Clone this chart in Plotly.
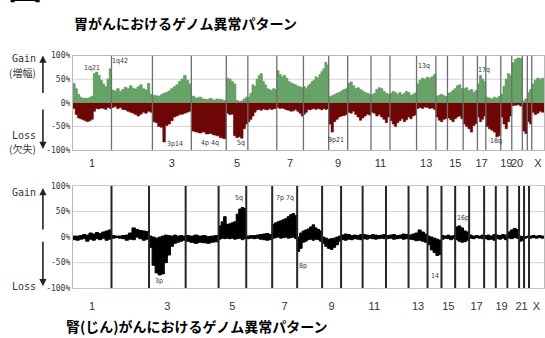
import plotly.graph_objects as go

W, H = 545, 338

CHROMS = ["1", "2", "3", "4", "5", "6", "7", "8", "9", "10", "11", "12",
          "13", "14", "15", "16", "17", "18", "19", "20", "21", "22", "X"]

# Plotted length of each chromosome (arbitrary probe units)
STOMACH_SPAN = [38.7, 41.0, 39.0, 35.0, 21.6, 29.0, 26.7, 25.3, 19.0, 23.4, 19.0, 26.6,
                19.4, 11.6, 15.7, 14.3, 8.4, 15.0, 11.0, 10.6, 5.0, 4.4, 12.3]
KIDNEY_SPAN = [38.7, 37.6, 36.7, 33.0, 27.7, 26.0, 25.0, 25.0, 19.0, 21.6, 23.4, 22.6,
               19.0, 14.0, 13.7, 14.0, 15.0, 11.7, 11.6, 11.7, 5.0, 5.0, 15.0]

STOMACH_XLABELS = ["1", "3", "5", "7", "9", "11", "13", "15", "17", "19", "20", "X"]
KIDNEY_XLABELS = ["1", "3", "5", "7", "9", "11", "13", "15", "17", "19", "21", "X"]

Y_TICKS = [100, 50, 0, -50, -100]
Y_TICKTEXT = ["100%", "50%", "0%", "-50%", "-100%"]

# Stomach cancer: frequency of gain (%) along each chromosome
STOMACH_GAIN = [
    [41, 30, 18, 12, 9, 10, 9, 11, 14, 62, 65, 58, 48, 40, 34, 50, 72],
    [27, 25, 30, 24, 28, 33, 30, 36, 31, 29, 34, 38, 30, 27, 41, 18],
    [16, 15, 14, 17, 20, 22, 25, 30, 34, 38, 45, 50, 58, 48, 40],
    [14, 10, 12, 8, 7, 9, 6, 8, 7, 5],
    [52, 50, 45, 40, 5, 3, 4, 8, 12],
    [12, 20, 38, 35, 50, 58, 62, 45, 38, 30, 28, 26, 30, 28],
    [68, 60, 55, 58, 52, 45, 42, 40, 38, 35, 34, 32],
    [34, 30, 36, 40, 45, 48, 55, 52, 60, 66, 72, 86, 80],
    [13, 15, 17, 20, 22, 25, 28, 30],
    [41, 44, 36, 30, 32, 28, 25, 22, 20, 18],
    [17, 20, 28, 32, 30, 24, 20, 18],
    [20, 24, 22, 18, 22, 17, 20, 24, 22, 16, 18, 21],
    [40, 48, 52, 50, 54, 52, 55, 60],
    [14, 16, 18, 15, 13],
    [20, 22, 26, 30, 36, 38, 30],
    [30, 32, 26, 28, 22, 26],
    [40, 58, 50, 45],
    [12, 10, 8, 12, 10, 14],
    [18, 35, 50, 62, 58],
    [85, 92, 95, 94],
    [4, 8],
    [22, 28],
    [40, 48, 52, 50, 52],
]

# Stomach cancer: frequency of loss (%) along each chromosome
STOMACH_LOSS = [
    [-12, -25, -32, -34, -36, -38, -40, -38, -35, -18, -12, -13, -11, -12, -14, -10, -12],
    [-10, -8, -12, -10, -14, -15, -18, -20, -22, -25, -28, -24, -20, -22, -18, -20],
    [-40, -42, -50, -52, -83, -48, -45, -38, -30, -28, -25, -24, -22, -20, -18],
    [-60, -62, -64, -62, -66, -65, -68, -70, -74, -76],
    [-22, -25, -24, -70, -74, -72, -75, -55, -45],
    [-40, -35, -28, -20, -15, -14, -16, -13, -14, -15, -12, -14, -13, -12],
    [-10, -12, -11, -13, -15, -16, -18, -17, -14, -18, -22, -28],
    [-24, -20, -14, -15, -13, -12, -14, -12, -13, -15, -12, -14, -13],
    [-45, -62, -40, -35, -30, -28, -27, -25],
    [-20, -22, -18, -25, -30, -37, -32, -28, -24, -26],
    [-20, -22, -28, -25, -30, -35, -42, -30],
    [-38, -45, -50, -42, -38, -34, -40, -36, -30, -34, -28, -26],
    [-12, -10, -12, -9, -10, -12, -11, -14],
    [-30, -37, -40, -35, -33],
    [-32, -36, -40, -34, -30, -28, -34],
    [-45, -50, -55, -62, -48, -44],
    [-30, -40, -35, -28],
    [-50, -55, -58, -62, -72, -70],
    [-30, -45, -55, -40, -28],
    [-6, -5, -4, -7],
    [-60, -65],
    [-40, -45],
    [-20, -25, -22, -18, -20],
]

# Kidney cancer: upper and lower envelope of the copy-number profile (%)
KIDNEY_UPPER = [
    [2, 2, 3, 5, 4, 8, 6, 9, 7, 10, 12, 14],
    [3, 2, 2, 3, 4, 8, 18, 15, 13, 12, 11],
    [2, 0, -2, 0, 2, 4, 3, 2, 4, 2, 3, 2],
    [3, 2, 4, 2, 3, 1, 2, 3],
    [22, 30, 40, 25, 26, 28, 30, 45, 55, 58, 56],
    [2, 3, 3, 4, 5, 6, 7, 5],
    [25, 28, 30, 32, 34, 36, 40, 44, 46, 42],
    [0, 8, 12, 14, 16, 20, 24, 18, 15, 12],
    [0, -2, -4, -3, -2, 0, 2],
    [4, 6, 5, 3, 4, 3, 5],
    [5, 4, 3, 5, 4, 3, 4, 5],
    [3, 4, 5, 3, 4, 6, 5],
    [4, 6, 8, 14, 10, 6],
    [2, 0, -2, -4, -6],
    [3, 2, 4, 2, 3],
    [20, 22, 18, 12, 10],
    [4, 2, 3, 2, 4],
    [3, 4, 2, 5],
    [4, 3, 5, 4],
    [10, 14, 17, 15],
    [2, 1],
    [1, 2],
    [2, 3, 2, 3, 2],
]
KIDNEY_LOWER = [
    [-5, -6, -4, -3, -8, -4, -6, -3, -5, -2, -6, -4],
    [-2, -1, -2, -3, -6, -4, -5, 0, -3, -6, -4],
    [-20, -55, -70, -74, -72, -50, -35, -18, -12, -10, -8, -6],
    [-8, -10, -12, -10, -11, -12, -10, -9],
    [-4, -2, -3, -2, -3, -2, -4, -3, -2, -5, -3],
    [-3, -2, -3, -2, -4, -5, -6, -5],
    [-2, -1, 0, -2, -1, 0, -2, -1, 0, -3],
    [-28, -22, -10, -8, -5, -4, -6, -4, -5, -8],
    [-12, -18, -22, -24, -20, -15, -8],
    [-5, -6, -4, -5, -3, -4, -5],
    [-3, -4, -2, -3, -4, -3, -2, -3],
    [-3, -2, -4, -3, -2, -4, -3],
    [-4, -5, -7, -6, -8, -10],
    [-15, -25, -30, -36, -34],
    [-4, -2, -3, -5, -3],
    [-5, -8, -10, -9, -6],
    [-2, -3, -1, -2, -3],
    [-3, -5, -4, -6],
    [-3, -4, -2, -5],
    [-2, -3, -1, -2],
    [-8, -7],
    [-2, -1],
    [-2, -1, -2, -1, -2],
]

# Region labels: (text, chromosome, position within chromosome, height in %)
STOMACH_NOTES = [("1q21", "1", 0.49, 73), ("1q42", "2", 0.20, 89), ("3p14", "3", 0.58, -88),
                 ("4p 4q", "4", 0.54, -85), ("5q", "5", 0.66, -85), ("8q24", "8", 0.73, 113),
                 ("9p21", "9", 0.36, -78), ("13q", "13", 0.41, 77), ("17q", "17", 0.76, 70),
                 ("18q", "18", 0.69, -81), ("20q", "20", 0.47, 116)]
KIDNEY_NOTES = [("3p", "3", 0.27, -85), ("5q", "5", 0.74, 77), ("7p 7q", "7", 0.51, 77),
                ("8p", "8", 0.22, -57), ("14", "14", 0.51, -76), ("16p", "16", 0.57, 37)]


def starts(spans):
    out, s = [], 0.0
    for w in spans:
        out.append(s)
        s += w
    return out, s


def step_series(spans, values):
    xs, ys = [], []
    st, total = starts(spans)
    for s, w, vals in zip(st, spans, values):
        n = len(vals)
        for i, v in enumerate(vals):
            xs.append(s + w * i / n)
            ys.append(v)
    xs.append(total)
    ys.append(values[-1][-1])
    return xs, ys


def px(x):
    return x / W


def py(y):
    return 1 - y / H


GREEN = "#66a366"
RED = "#6e0606"
AX_FONT = dict(family="DejaVu Sans Mono", size=8, color="#333")
JP = "Noto Sans CJK JP"

fig = go.Figure()

# --- stomach cancer panel ---
gx, gy = step_series(STOMACH_SPAN, STOMACH_GAIN)
lx, ly = step_series(STOMACH_SPAN, STOMACH_LOSS)
fig.add_trace(go.Scatter(x=gx, y=gy, mode="lines", line=dict(shape="hv", color="#4f8d4f", width=0.6),
                         fill="tozeroy", fillcolor=GREEN, xaxis="x", yaxis="y", hoverinfo="skip"))
fig.add_trace(go.Scatter(x=lx, y=ly, mode="lines", line=dict(shape="hv", color=RED, width=0.6),
                         fill="tozeroy", fillcolor=RED, xaxis="x", yaxis="y", hoverinfo="skip"))

# --- kidney cancer panel ---
ux, uy = step_series(KIDNEY_SPAN, KIDNEY_UPPER)
dx, dy = step_series(KIDNEY_SPAN, KIDNEY_LOWER)
fig.add_trace(go.Scatter(x=dx, y=dy, mode="lines", line=dict(shape="hv", color="#000", width=1),
                         xaxis="x2", yaxis="y2", hoverinfo="skip"))
fig.add_trace(go.Scatter(x=ux, y=uy, mode="lines", line=dict(shape="hv", color="#000", width=1),
                         fill="tonexty", fillcolor="#000", xaxis="x2", yaxis="y2", hoverinfo="skip"))

shapes = []
annotations = []


def chrom_lines(spans, xref, yref, color, width):
    st, total = starts(spans)
    for s in st[1:]:
        shapes.append(dict(type="line", xref=xref, yref=yref, x0=s, x1=s, y0=-100, y1=100,
                           line=dict(color=color, width=width), layer="above"))
    for v in (50, -50):
        shapes.append(dict(type="line", xref=xref, yref=yref, x0=0, x1=total, y0=v, y1=v,
                           line=dict(color="#d4d4d4", width=1), layer="below"))


chrom_lines(STOMACH_SPAN, "x", "y", "#6e6e6e", 1.3)
chrom_lines(KIDNEY_SPAN, "x2", "y2", "#262626", 2)


def centers(spans, labels):
    st, _ = starts(spans)
    return [st[CHROMS.index(c)] + spans[CHROMS.index(c)] / 2 for c in labels]


def notes(spans, items, xref, yref):
    st, _ = starts(spans)
    for text, c, f, v in items:
        k = CHROMS.index(c)
        annotations.append(dict(x=st[k] + spans[k] * f, y=v, xref=xref, yref=yref, text=text,
                                xanchor="center", yanchor="middle", showarrow=False,
                                font=dict(family="DejaVu Sans Condensed", size=7, color="#333")))


notes(STOMACH_SPAN, STOMACH_NOTES, "x", "y")
notes(KIDNEY_SPAN, KIDNEY_NOTES, "x2", "y2")


def paper_text(text, x, y, font, xanchor="center", yanchor="middle"):
    annotations.append(dict(x=px(x), y=py(y), xref="paper", yref="paper", text=text,
                            xanchor=xanchor, yanchor=yanchor, showarrow=False, font=font))


# Titles
paper_text("胃がんにおけるゲノム異常パターン", 186, 20, dict(family=JP, size=14, color="#000", weight=700))
paper_text("腎(じん)がんにおけるゲノム異常パターン", 197, 331, dict(family=JP, size=14, color="#000", weight=700))
paper_text("図 2", 6, 7, dict(family=JP, size=34, color="#000", weight=700), xanchor="left", yanchor="bottom")

# Side captions and arrows
side_font = dict(family="DejaVu Sans Mono", size=10, color="#333")
jp_font = dict(family=JP, size=10, color="#333")
for text, x, y, f in [("Gain", 24, 56, side_font), ("(増幅)", 23, 70, jp_font),
                      ("Loss", 24, 135, side_font), ("(欠失)", 23, 148, jp_font),
                      ("Gain", 24, 194, side_font), ("Loss", 24, 290, side_font)]:
    paper_text(text, x, y, f)
for head, tail in [(53, 92), (149, 108), (189, 232), (290, 244)]:
    annotations.append(dict(x=px(43), y=py(head), xref="paper", yref="paper", text="",
                            showarrow=True, ax=0, ay=tail - head, arrowhead=2, arrowsize=0.9,
                            arrowwidth=1.6, arrowcolor="#222"))

x_left = 73 / W
yaxis_common = dict(range=[-100, 100], tickvals=Y_TICKS, ticktext=Y_TICKTEXT, tickfont=AX_FONT,
                    showgrid=False, zeroline=False, showline=True, mirror=True, linecolor="#b8b8b8",
                    linewidth=1, ticks="", fixedrange=True)
xfont = dict(family="Liberation Sans", size=11, color="#333")

_, s_total = starts(STOMACH_SPAN)
_, k_total = starts(KIDNEY_SPAN)

fig.update_layout(
    width=W, height=H, margin=dict(l=0, r=0, t=0, b=0),
    paper_bgcolor="white", plot_bgcolor="white", showlegend=False,
    xaxis=dict(domain=[x_left, 1], range=[0, s_total], tickvals=centers(STOMACH_SPAN, STOMACH_XLABELS),
               ticktext=STOMACH_XLABELS, tickfont=xfont, tickangle=0,
               ticks="outside", ticklen=3, tickcolor="rgba(0,0,0,0)", showgrid=False, zeroline=False,
               showline=True, mirror=True, linecolor="#b8b8b8", anchor="y"),
    yaxis=dict(domain=[py(150), py(53)], anchor="x", **yaxis_common),
    xaxis2=dict(domain=[x_left, 1], range=[0, k_total], tickvals=centers(KIDNEY_SPAN, KIDNEY_XLABELS),
                ticktext=KIDNEY_XLABELS, tickfont=xfont, tickangle=0,
                ticks="outside", ticklen=8, tickcolor="rgba(0,0,0,0)", showgrid=False, zeroline=False,
                showline=True, mirror=True, linecolor="#c4cad4", anchor="y2"),
    yaxis2=dict(domain=[py(292), py(187)], anchor="x2", **yaxis_common),
    shapes=shapes, annotations=annotations,
)

fig.write_html("out.html")
